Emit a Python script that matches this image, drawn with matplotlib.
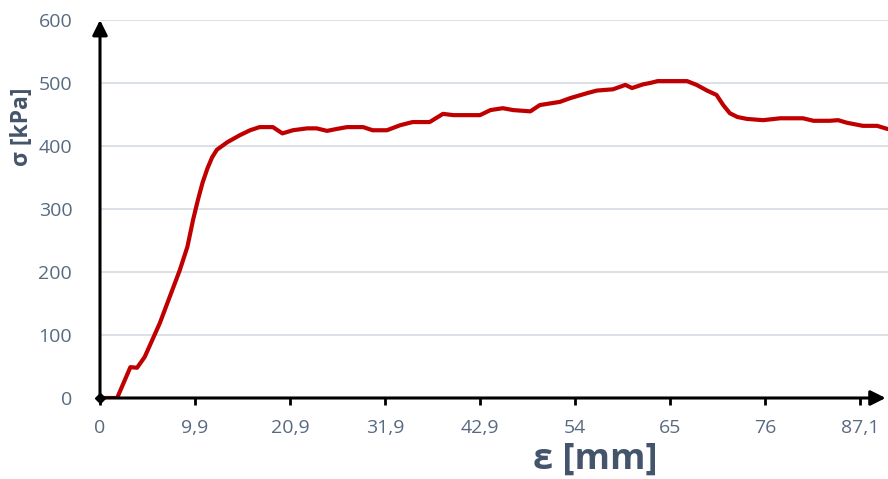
import matplotlib.pyplot as plt

# stress-strain curve, x given in axis position (one unit per labelled tick)
pos = [0.00, 0.18, 0.32, 0.39, 0.47, 0.63, 0.76, 0.84, 0.92, 0.98, 1.03, 1.08,
       1.13, 1.18, 1.23, 1.34, 1.47, 1.58, 1.68, 1.82, 1.92, 2.03, 2.18, 2.28,
       2.39, 2.49, 2.60, 2.77, 2.87, 3.02, 3.16, 3.29, 3.47, 3.61, 3.72, 4.00,
       4.11, 4.24, 4.35, 4.53, 4.63, 4.84, 4.95, 5.13, 5.23, 5.40, 5.53, 5.60,
       5.72, 5.79, 5.87, 6.18, 6.28, 6.39, 6.49, 6.56, 6.63, 6.71, 6.81, 6.98,
       7.16, 7.40, 7.51, 7.68, 7.77, 7.86, 8.03, 8.18, 8.29]
stress = [0, 0, 49, 48, 65, 119, 171, 203, 240, 283, 314, 342,
          364, 382, 394, 406, 417, 425, 430, 430, 420, 425, 428, 428,
          424, 427, 430, 430, 425, 425, 433, 438, 438, 451, 449, 449,
          457, 460, 457, 455, 465, 470, 476, 484, 488, 490, 497, 492,
          498, 500, 503, 503, 497, 488, 481, 465, 452, 446, 443, 441,
          444, 444, 440, 440, 441, 437, 432, 432, 427]

strain_labels = ['0', '9,9', '20,9', '31,9', '42,9', '54', '65', '76', '87,1']
y_ticks = [0, 100, 200, 300, 400, 500, 600]

plt.rcParams['font.family'] = ['Open Sans', 'DejaVu Sans']
text_col = '#586a80'
title_col = '#44546a'

fig = plt.figure(figsize=(8.88, 4.79), dpi=100)
ax = fig.add_axes([100 / 888, 1 - 398 / 479, 788 / 888, 378 / 479])

ax.set_xlim(0, 788 / 95)
ax.set_ylim(0, 600)

# horizontal gridlines
for v in y_ticks[1:]:
    ax.axhline(v, color='#d9dee6', lw=1.3, zorder=0)

ax.plot(pos, stress, color='#c00000', lw=3.0, solid_joinstyle='round',
        solid_capstyle='round', zorder=3)

for s in ax.spines.values():
    s.set_visible(False)

# axes drawn as arrows
arrow = dict(arrowstyle='-|>,head_length=0.9,head_width=0.45',
             color='black', lw=2.2, shrinkA=0, shrinkB=0)
ax.annotate('', xy=(0, 600), xytext=(0, 0), arrowprops=arrow,
            annotation_clip=False, zorder=4)
ax.annotate('', xy=(8.27, 0), xytext=(0, 0), arrowprops=arrow,
            annotation_clip=False, zorder=4)
ax.plot([0], [0], marker='D', color='black', ms=5, clip_on=False, zorder=5)

ax.set_xticks(range(len(strain_labels)))
ax.set_xticklabels(strain_labels)
ax.set_yticks(y_ticks)
ax.tick_params(axis='x', length=5, width=2, color='black', pad=10,
               labelsize=14, labelcolor=text_col, direction='out')
ax.tick_params(axis='y', length=0, pad=20, labelsize=14, labelcolor=text_col)

fig.text(595 / 888, 1 - 460 / 479, 'ε [mm]', ha='center', va='center',
         fontsize=26, fontweight='bold', color=title_col)
fig.text(22 / 888, 1 - 127 / 479, 'σ [kPa]', ha='center', va='center',
         rotation=90, fontsize=16.5, fontweight='bold', color=title_col)

fig.savefig('out.png', dpi=100)
